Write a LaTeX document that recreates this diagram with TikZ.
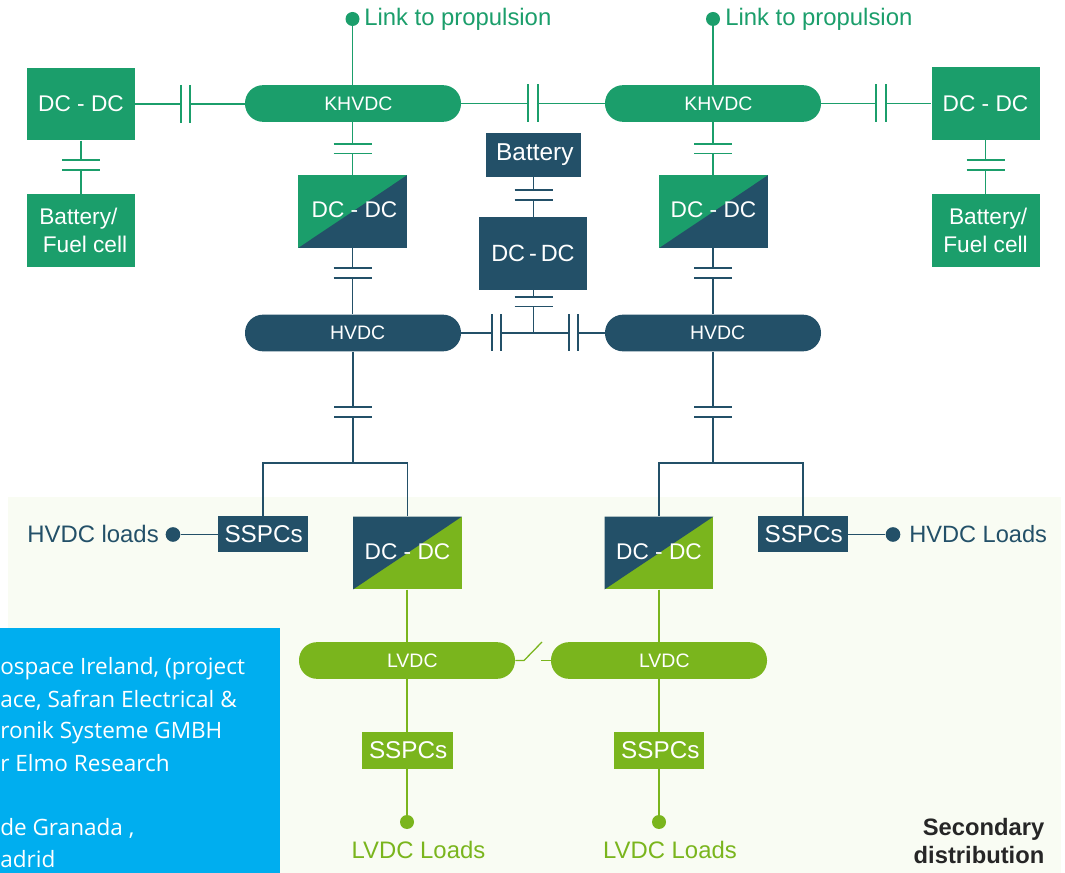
\documentclass[tikz,border=0pt]{standalone}
\usepackage{fontspec}
\setmainfont{Liberation Sans}
\newfontfamily\bluefont{Open Sans}
\definecolor{gr}{HTML}{1B9E6B}
\definecolor{nv}{HTML}{235068}
\definecolor{lm}{HTML}{7AB51D}
\definecolor{bgp}{HTML}{F9FCF3}
\definecolor{blu}{HTML}{00AEEF}
\newcommand{\fpx}[2]{\fontsize{#1}{#2}\selectfont}
\tikzset{
  box/.style={draw=none,fill=#1,inner sep=0pt,text=white,align=center,font=\fpx{17}{21}},
  pill/.style={fill=#1,rounded corners=13.5pt,minimum width=162pt,minimum height=27.5pt,inner sep=0pt,text=white,font=\fpx{14.6}{15}},
  dbox/.style 2 args={fill=#2,inner sep=0pt,text=white,minimum width=81.5pt,minimum height=54.5pt,font=\fpx{17}{20},
    path picture={\fill[#1] (path picture bounding box.north west) -- (path picture bounding box.north east) -- (path picture bounding box.south west) -- cycle;}},
  ln/.style={draw=#1,line width=0.95pt},
  dot/.style={circle,fill=#1,inner sep=0pt,minimum size=10.5pt},
  lab/.style={text=#1,inner sep=0pt,font=\fpx{17.9}{20}},
  bluetext/.style={anchor=base west,inner sep=0pt,text=white,font=\bluefont\fpx{16.9}{20}},
}
\newcommand{\capV}[5]{% name x y1 y2 colour: plates horizontal
  \coordinate (#1a) at (#2,#3); \coordinate (#1b) at (#2,#4);
  \draw[ln=#5] (#2-19,#3) -- (#2+19,#3) (#2-19,#4) -- (#2+19,#4);}
\newcommand{\capH}[6]{% name x1 x2 y colour half-length
  \coordinate (#1a) at (#2,#4); \coordinate (#1b) at (#3,#4);
  \draw[ln=#5] (#2,#4-#6) -- (#2,#4+#6) (#3,#4-#6) -- (#3,#4+#6);}
\begin{document}
\begin{tikzpicture}[x=0.75pt,y=-0.75pt]
\useasboundingbox (0,0) rectangle (1065,873);
\fill[bgp] (8,497) rectangle (1061,873);

% top row
\node[box=gr,minimum width=81pt,minimum height=54.5pt] (dcl) at (81,104) {DC - DC};
\node[box=gr,minimum width=81pt,minimum height=54.5pt] (dcr) at (985.5,103.5) {DC - DC};
\node[box=gr,minimum width=81pt,minimum height=54.5pt] (batl) at (81,230.5) {\raisebox{1pt}{\hspace*{-4pt}Battery/}\\\raisebox{1pt}{\hspace*{6pt}Fuel cell}};
\node[box=gr,minimum width=81pt,minimum height=54.5pt] (batr) at (985.5,230.5) {\raisebox{1pt}{\hspace*{4pt}Battery/}\\\raisebox{1pt}{Fuel cell}};
\node[pill=gr] (kh1) at (353,103.5) {\hspace*{8pt}KHVDC};
\node[pill=gr] (kh2) at (713,103.5) {\hspace*{8pt}KHVDC};
\node[dot=gr] (lk1) at (352.5,19) {};
\node[dot=gr] (lk2) at (713,19) {};
\node[lab=gr,anchor=base west] (lk1t) at (364,26) {Link to propulsion};
\node[lab=gr,anchor=base west] (lk2t) at (725,26) {Link to propulsion};
\node[dbox={gr}{nv}] (dd1) at (352.5,211.5) {\hspace*{3pt}\raisebox{3pt}{DC - DC}};
\node[dbox={gr}{nv}] (dd2) at (713.5,211.5) {\raisebox{3pt}{DC - DC}};
\node[box=nv,minimum width=71.5pt,minimum height=33pt,font=\fpx{18.3}{21}] (batc) at (533.5,155) {\hspace*{2pt}\raisebox{-1pt}{Battery}};
\node[box=nv,minimum width=81pt,minimum height=54.5pt,font=\fpx{17.6}{21}] (ddc) at (533,253.5) {DC\,-\,DC};
\node[pill=nv] (hv1) at (353,333) {\hspace*{7pt}HVDC};
\node[pill=nv] (hv2) at (713,333) {\hspace*{7pt}HVDC};

% capacitors
\capH{cl}{181}{190}{104}{gr}{19}
\capH{cm}{528}{538}{103.5}{gr}{19}
\capH{cr}{876}{886}{103.5}{gr}{19}
\capV{bl}{81}{160}{170}{gr}
\capV{br}{985.5}{160}{170}{gr}
\capV{k1}{352.5}{144}{153.5}{gr}
\capV{k2}{713}{144}{153.5}{gr}
\capV{h1}{352.5}{268}{278}{nv}
\capV{h2}{713}{268}{278}{nv}
\capV{bc}{533.5}{190}{200}{nv}
\capV{dc}{533.5}{297}{306.5}{nv}
\capH{hl}{492}{501}{333}{nv}{18.5}
\capH{hr}{569}{578}{333}{nv}{18.5}
\capV{l1}{353}{407}{417}{nv}
\capV{l2}{713}{407}{417}{nv}

% green connectors
\draw[ln=gr] (lk1) -- (lk1 |- kh1.north);
\draw[ln=gr] (lk2) -- (lk2 |- kh2.north);
\draw[ln=gr] (dcl.east) -- (cla);
\draw[ln=gr] (clb) -- (clb -| kh1.west);
\draw[ln=gr] (kh1.east |- cma) -- (cma);
\draw[ln=gr] (cmb) -- (cmb -| kh2.west);
\draw[ln=gr] (kh2.east |- cra) -- (cra);
\draw[ln=gr] (crb) -- (crb -| dcr.west);
\draw[ln=gr] (dcl.south) -- (bla);
\draw[ln=gr] (blb) -- (batl.north);
\draw[ln=gr] (dcr.south) -- (bra);
\draw[ln=gr] (brb) -- (batr.north);
\draw[ln=gr] (k1a |- kh1.south) -- (k1a);
\draw[ln=gr] (k1b) -- (k1b |- dd1.north);
\draw[ln=gr] (k2a |- kh2.south) -- (k2a);
\draw[ln=gr] (k2b) -- (k2b |- dd2.north);
% navy connectors
\draw[ln=nv] (h1a |- dd1.south) -- (h1a);
\draw[ln=nv] (h1b) -- (h1b |- hv1.north);
\draw[ln=nv] (h2a |- dd2.south) -- (h2a);
\draw[ln=nv] (h2b) -- (h2b |- hv2.north);
\draw[ln=nv] (bca |- batc.south) -- (bca);
\draw[ln=nv] (bcb) -- (bcb |- ddc.north);
\draw[ln=nv] (dca |- ddc.south) -- (dca);
\coordinate (jc) at (533.5,333);
\draw[ln=nv] (dcb) -- (jc);
\draw[ln=nv] (hv1.east |- hla) -- (hla);
\draw[ln=nv] (hlb) -- (hra);
\draw[ln=nv] (hrb) -- (hrb -| hv2.west);
\draw[ln=nv] (l1a |- hv1.south) -- (l1a);
\draw[ln=nv] (l2a |- hv2.south) -- (l2a);

% lower section
\node[box=nv,minimum width=67.5pt,minimum height=27pt,font=\fpx{18.2}{21}] (s1) at (263,534.5) {\hspace*{1pt}SSPCs};
\node[box=nv,minimum width=67.5pt,minimum height=27pt,font=\fpx{18.2}{21}] (s2) at (803,534.5) {\hspace*{1pt}SSPCs};
\node[dbox={nv}{lm}] (dl1) at (407.5,553) {\raisebox{2pt}{DC - DC}};
\node[dbox={nv}{lm}] (dl2) at (659,553) {\raisebox{2pt}{DC - DC}};
\coordinate (j1) at (353,463);
\coordinate (j2) at (713,463);
\draw[ln=nv] (l1b) -- (j1);
\draw[ln=nv] (l2b) -- (j2);
\draw[ln=nv] (s1.north) |- (j1) -| (dl1.north);
\draw[ln=nv] (s2.north) |- (j2) -| (dl2.north);
\node[dot=nv,minimum size=11pt] (d1) at (173,534.5) {};
\node[dot=nv,minimum size=11pt] (d2) at (893,534.5) {};
\draw[ln=nv] (d1) -- (s1.west);
\draw[ln=nv] (s2.east) -- (d2);
\node[lab=nv,anchor=east] (d1t) at (159,534) {HVDC loads};
\node[lab=nv,anchor=west,font=\fpx{17.7}{20}] (d2t) at (909,534) {HVDC Loads};

\node[pill=lm] (lv1) at (407,660.5) {\hspace*{8pt}LVDC};
\node[pill=lm] (lv2) at (659,660.5) {\hspace*{8pt}LVDC};
\node[box=lm,minimum width=68pt,minimum height=27.5pt,font=\fpx{18.2}{21}] (g1) at (407.5,750.5) {\hspace*{1pt}SSPCs};
\node[box=lm,minimum width=68pt,minimum height=27.5pt,font=\fpx{18.2}{21}] (g2) at (659,750.5) {\hspace*{2pt}SSPCs};
\node[dot=lm] (e1) at (407,822) {};
\node[dot=lm] (e2) at (659,822) {};
\node[lab=lm] (e1t) at (418.5,850) {LVDC Loads};
\node[lab=lm] (e2t) at (670,850) {LVDC Loads};
\draw[ln=lm] (e1 |- dl1.south) -- (e1 |- lv1.north);
\draw[ln=lm] (e2 |- dl2.south) -- (e2 |- lv2.north);
\draw[ln=lm] (e1 |- lv1.south) -- (e1 |- g1.north);
\draw[ln=lm] (e2 |- lv2.south) -- (e2 |- g2.north);
\draw[ln=lm] (e1 |- g1.south) -- (e1);
\draw[ln=lm] (e2 |- g2.south) -- (e2);
\coordinate (sw1) at (524,660.5);
\coordinate (sw2) at (542,642);
\coordinate (sw3) at (541,660.5);
\draw[ln=lm] (lv1.east) -- (sw1) -- (sw2);
\draw[ln=lm] (sw3) -- (lv2.west);

\node[anchor=east,align=right,inner sep=0pt,text=black!85,font=\bfseries\fpx{17.8}{21.5}] (sec) at (1044.5,841) {Secondary\\distribution};

% blue panel
\begin{scope}
\clip (0,628) rectangle (280,873);
\fill[blu] (0,628) rectangle (280,873);
\node[bluetext] (t1) at (0,675) {ospace Ireland, (project};
\node[bluetext] (t2) at (0,707) {ace, Safran Electrical \&};
\node[bluetext] (t3) at (0,739) {ronik Systeme GMBH};
\node[bluetext] (t4) at (0,771) {r Elmo Research};
\node[bluetext] (t5) at (0,835) {de Granada ,};
\node[bluetext] (t6) at (0,867) {adrid};
\end{scope}
\end{tikzpicture}
\end{document}
